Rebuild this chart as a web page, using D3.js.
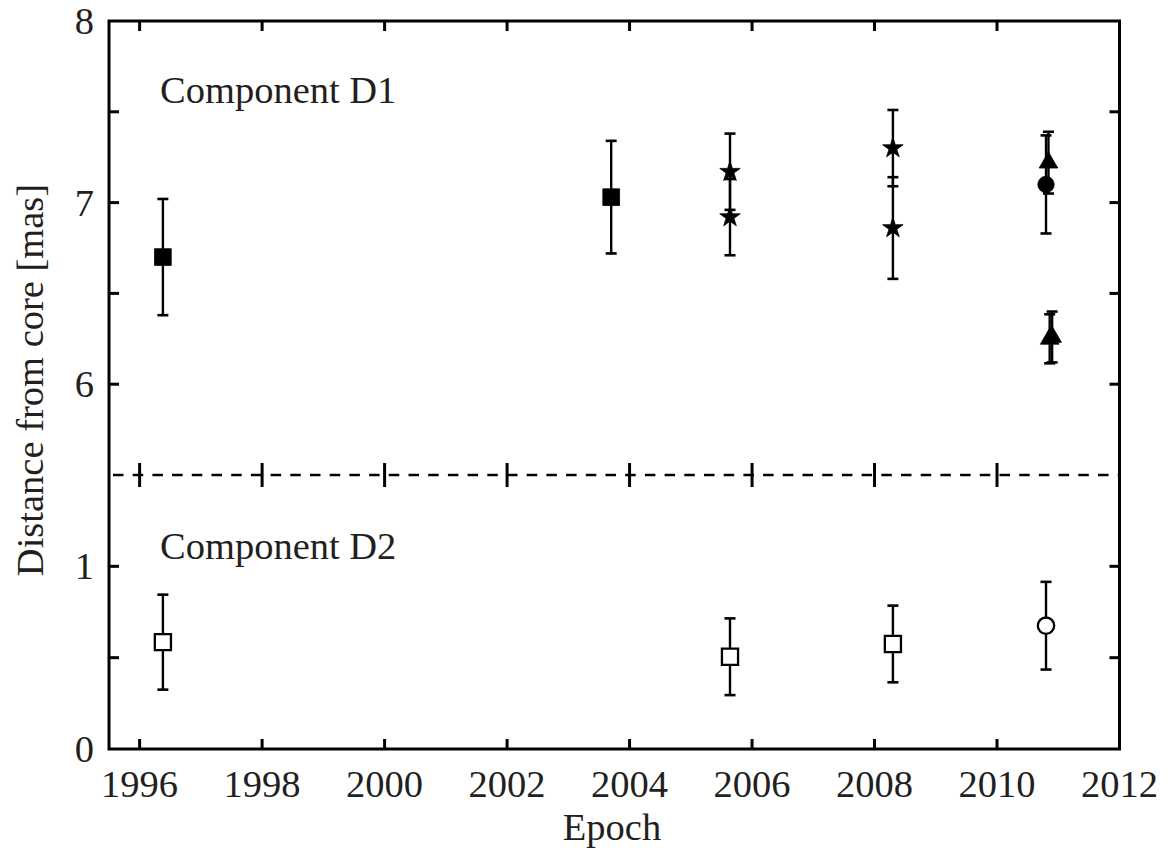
<!DOCTYPE html>
<html>
<head>
<meta charset="utf-8">
<script src="https://cdn.jsdelivr.net/npm/d3@7"></script>
<style>
  html, body { margin: 0; padding: 0; background: #fff; }
  svg { display: block; }
  text { font-family: "Liberation Serif", "Times New Roman", serif; fill: #231f20; }
</style>
</head>
<body>
<svg id="chart" width="1172" height="854"></svg>
<script>
// ---- Data ----
// Component D1 (filled symbols)
const d1SquareEpoch = [1996.38, 2003.70];
const d1SquareDist  = [6.70, 7.03];
const d1SquareErr   = [0.32, 0.31];

const d1StarEpoch = [2005.64, 2005.64, 2008.30, 2008.30];
const d1StarDist  = [7.17, 6.92, 7.30, 6.86];
const d1StarErr   = [0.21, 0.21, 0.21, 0.28];

const d1CircleEpoch = [2010.80];
const d1CircleDist  = [7.10];
const d1CircleErr   = [0.27];

const d1TriangleEpoch = [2010.84, 2010.86, 2010.90];
const d1TriangleDist  = [7.22, 6.25, 6.26];
const d1TriangleErr   = [0.17, 0.135, 0.14];

// Component D2 (open symbols)
const d2SquareEpoch = [1996.38, 2005.64, 2008.30];
const d2SquareDist  = [0.585, 0.505, 0.575];
const d2SquareErr   = [0.26, 0.21, 0.21];

const d2CircleEpoch = [2010.80];
const d2CircleDist  = [0.675];
const d2CircleErr   = [0.24];

// Axes
const xTicks = [1996, 1998, 2000, 2002, 2004, 2006, 2008, 2010, 2012];
const yLabelTicks = [0, 1, 6, 7, 8];
const yMinorTicks = [0.5, 6.5, 7.5];
const yBreak = 1.5;        // lower panel top
const yBreakUpper = 5.5;   // upper panel bottom
const panelLabels = ["Component D1", "Component D2"];
const xTitle = "Epoch";
const yTitle = "Distance from core [mas]";

// ---- Drawing ----
const svg = d3.select("#chart");
const L = 109, R = 1119.5, T = 21, B = 749, YB = 475;

const x = d3.scaleLinear().domain([1995.5, 2012]).range([L, R]);
const y = d3.scaleLinear().domain([0, yBreak, yBreakUpper, 8]).range([B, YB, YB, T]);

const FS = 38.5;
const tickLen = 10;

// Frame
svg.append("rect").attr("x", L).attr("y", T).attr("width", R - L).attr("height", B - T)
  .attr("fill", "none").attr("stroke", "#000").attr("stroke-width", 3);

// Break dashed line
svg.append("line").attr("x1", L).attr("x2", R).attr("y1", y(yBreak)).attr("y2", y(yBreak))
  .attr("stroke", "#000").attr("stroke-width", 2.6).attr("stroke-dasharray", "10.5,9.2")
  .attr("stroke-dashoffset", -4);

// X ticks (bottom, top, and across dashed break line)
const xInner = xTicks.filter(t => t > 1995.5 && t < 2012);
const g = svg.append("g").attr("stroke", "#000").attr("stroke-width", 3);
xInner.forEach(t => {
  g.append("line").attr("x1", x(t)).attr("x2", x(t)).attr("y1", B).attr("y2", B - tickLen);
  g.append("line").attr("x1", x(t)).attr("x2", x(t)).attr("y1", T).attr("y2", T + tickLen);
  g.append("line").attr("x1", x(t)).attr("x2", x(t)).attr("y1", y(yBreak) - 12).attr("y2", y(yBreak) + 12);
});
// Y ticks (left and right)
yLabelTicks.concat(yMinorTicks).filter(v => v > 0 && v < 8).forEach(v => {
  g.append("line").attr("x1", L).attr("x2", L + tickLen).attr("y1", y(v)).attr("y2", y(v));
  g.append("line").attr("x1", R).attr("x2", R - tickLen).attr("y1", y(v)).attr("y2", y(v));
});

// Tick labels
xTicks.forEach(t => {
  svg.append("text").attr("x", x(t)).attr("y", 797).attr("text-anchor", "middle")
    .attr("font-size", FS).text(t);
});
yLabelTicks.forEach(v => {
  svg.append("text").attr("x", 94).attr("y", y(v)).attr("dy", "0.34em").attr("text-anchor", "end")
    .attr("font-size", FS).text(v);
});

// Titles
svg.append("text").attr("x", 612).attr("y", 840).attr("text-anchor", "middle")
  .attr("font-size", FS).text(xTitle);
svg.append("text").attr("transform", `translate(43,380) rotate(-90)`)
  .attr("text-anchor", "middle").attr("font-size", FS).text(yTitle);

svg.append("text").attr("x", 160).attr("y", 103).attr("font-size", FS).text(panelLabels[0]);
svg.append("text").attr("x", 160).attr("y", 559).attr("font-size", FS).text(panelLabels[1]);

// Error bars + symbols
function zip(ep, di, er) { return ep.map((e, i) => ({ e, d: di[i], s: er[i] })); }

function drawSeries(data, symType, size, filled) {
  const grp = svg.append("g");
  data.forEach(p => {
    const cx = x(p.e), y1 = y(p.d + p.s), y2 = y(p.d - p.s);
    grp.append("line").attr("x1", cx).attr("x2", cx).attr("y1", y1).attr("y2", y2)
      .attr("stroke", "#000").attr("stroke-width", 2.4);
    [y1, y2].forEach(yy => grp.append("line").attr("x1", cx - 5.5).attr("x2", cx + 5.5)
      .attr("y1", yy).attr("y2", yy).attr("stroke", "#000").attr("stroke-width", 2.6));
  });
  data.forEach(p => {
    grp.append("path").attr("d", d3.symbol().type(symType).size(size)())
      .attr("transform", `translate(${x(p.e)},${y(p.d)})`)
      .attr("fill", filled ? "#000" : "#fff")
      .attr("stroke", "#000").attr("stroke-width", filled ? 0.8 : 2.3);
  });
}

drawSeries(zip(d1SquareEpoch, d1SquareDist, d1SquareErr), d3.symbolSquare, 280, true);
drawSeries(zip(d1StarEpoch, d1StarDist, d1StarErr), d3.symbolStar, 130, true);
drawSeries(zip(d1CircleEpoch, d1CircleDist, d1CircleErr), d3.symbolCircle, 210, true);
drawSeries(zip(d1TriangleEpoch, d1TriangleDist, d1TriangleErr), d3.symbolTriangle, 150, true);
drawSeries(zip(d2SquareEpoch, d2SquareDist, d2SquareErr), d3.symbolSquare, 260, false);
drawSeries(zip(d2CircleEpoch, d2CircleDist, d2CircleErr), d3.symbolCircle, 210, false);
</script>
</body>
</html>
